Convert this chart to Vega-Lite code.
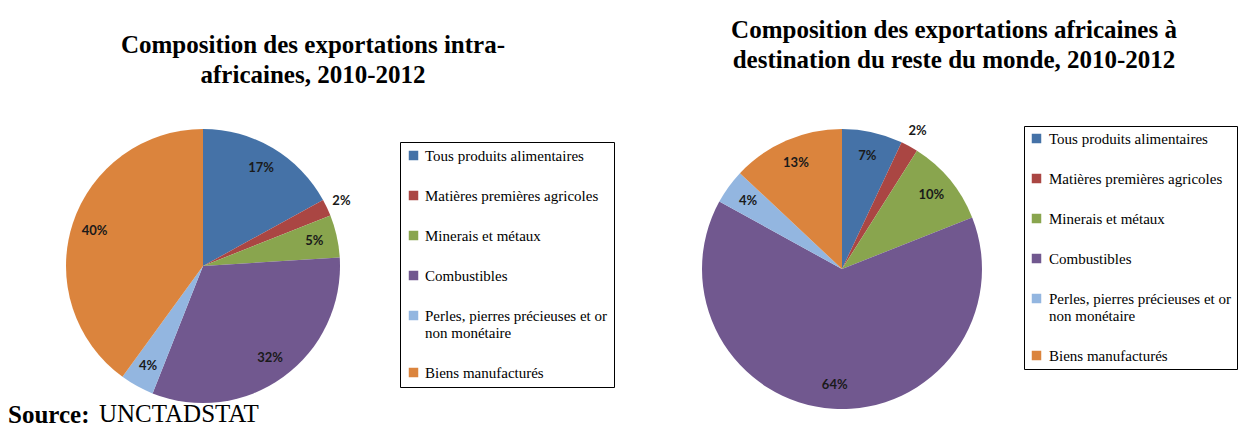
{
  "$schema": "https://vega.github.io/schema/vega-lite/v6.json",
  "background": "white",
  "padding": {"left": 8, "top": 17, "right": 0, "bottom": 0},
  "datasets": {
    "intra": [
      {"categorie": "Tous produits alimentaires", "ordre": 1, "part": 0.17},
      {"categorie": "Matières premières agricoles", "ordre": 2, "part": 0.02},
      {"categorie": "Minerais et métaux", "ordre": 3, "part": 0.05},
      {"categorie": "Combustibles", "ordre": 4, "part": 0.32},
      {"categorie": "Perles, pierres précieuses et or non monétaire", "ordre": 5, "part": 0.04},
      {"categorie": "Biens manufacturés", "ordre": 6, "part": 0.40}
    ],
    "monde": [
      {"categorie": "Tous produits alimentaires", "ordre": 1, "part": 0.07},
      {"categorie": "Matières premières agricoles", "ordre": 2, "part": 0.02},
      {"categorie": "Minerais et métaux", "ordre": 3, "part": 0.10},
      {"categorie": "Combustibles", "ordre": 4, "part": 0.64},
      {"categorie": "Perles, pierres précieuses et or non monétaire", "ordre": 5, "part": 0.04},
      {"categorie": "Biens manufacturés", "ordre": 6, "part": 0.13}
    ]
  },
  "title": {
    "text": "UNCTADSTAT",
    "orient": "bottom",
    "anchor": "start",
    "frame": "group",
    "font": "Liberation Serif",
    "fontSize": 25,
    "fontWeight": "normal",
    "color": "black",
    "dx": 33,
    "offset": -31
  },
  "vconcat": [
    {
      "title": {
        "text": "Source:",
        "orient": "bottom",
        "anchor": "start",
        "frame": "group",
        "font": "Liberation Serif",
        "fontSize": 25,
        "fontWeight": "bold",
        "color": "black",
        "dx": -58,
        "offset": -30
      },
      "bounds": "flush",
      "spacing": 362,
      "resolve": {"legend": {"color": "independent"}},
      "hconcat": [
        {
          "width": 274,
          "height": 274,
          "data": {"name": "intra"},
          "title": {
            "text": ["Composition des exportations intra-", "africaines, 2010-2012"],
            "anchor": "middle",
            "frame": "group",
            "dx": 110,
            "offset": 40,
            "font": "Liberation Serif",
            "fontSize": 25,
            "fontWeight": "bold",
            "lineHeight": 30,
            "color": "black"
          },
          "layer": [
            {
              "mark": {"type": "arc"},
              "encoding": {
                "theta": {"field": "part", "type": "quantitative", "stack": true},
                "order": {"field": "ordre", "type": "quantitative"},
                "color": {
                  "field": "categorie",
                  "type": "nominal",
                  "scale": {
                    "domain": ["Tous produits alimentaires", "Matières premières agricoles", "Minerais et métaux", "Combustibles", "Perles, pierres précieuses et or non monétaire", "Biens manufacturés"],
                    "range": ["#4572A7", "#AA4643", "#89A54E", "#71588F", "#93B6E0", "#DB843D"]
                  },
                  "legend": {
                    "orient": "none",
                    "legendX": 334,
                    "legendY": 13,
                    "title": null,
                    "symbolType": "square",
                    "symbolSize": 90,
                    "symbolStrokeWidth": 0,
                    "labelFont": "Liberation Serif",
                    "labelFontSize": 15,
                    "labelColor": "black",
                    "labelLimit": 300,
                    "labelOffset": 4,
                    "rowPadding": 24,
                    "strokeColor": "black",
                    "padding": 6,
                    "labelExpr": "datum.label == 'Perles, pierres précieuses et or non monétaire' ? ['Perles, pierres précieuses et or', 'non monétaire'] : datum.label"
                  }
                }
              }
            },
            {
              "mark": {"type": "text", "radius": 114, "font": "Lato", "fontWeight": "bold", "fontSize": 13, "color": "#1a1a1a"},
              "encoding": {
                "theta": {"field": "part", "type": "quantitative", "stack": true},
                "order": {"field": "ordre", "type": "quantitative"},
                "text": {"condition": {"test": "datum.part > 0.025", "field": "part", "type": "quantitative", "format": ".0%"}, "value": ""}
              }
            },
            {
              "mark": {"type": "text", "radius": 153, "font": "Lato", "fontWeight": "bold", "fontSize": 13, "color": "#1a1a1a"},
              "encoding": {
                "theta": {"field": "part", "type": "quantitative", "stack": true},
                "order": {"field": "ordre", "type": "quantitative"},
                "text": {"condition": {"test": "datum.part <= 0.025", "field": "part", "type": "quantitative", "format": ".0%"}, "value": ""}
              }
            }
          ]
        },
        {
          "width": 280,
          "height": 280,
          "data": {"name": "monde"},
          "title": {
            "text": ["Composition des exportations africaines à", "destination du reste du monde, 2010-2012"],
            "anchor": "middle",
            "frame": "group",
            "dx": 112,
            "offset": 37,
            "font": "Liberation Serif",
            "fontSize": 25,
            "fontWeight": "bold",
            "lineHeight": 30,
            "color": "black"
          },
          "layer": [
            {
              "mark": {"type": "arc"},
              "encoding": {
                "theta": {"field": "part", "type": "quantitative", "stack": true},
                "order": {"field": "ordre", "type": "quantitative"},
                "color": {
                  "field": "categorie",
                  "type": "nominal",
                  "scale": {
                    "domain": ["Tous produits alimentaires", "Matières premières agricoles", "Minerais et métaux", "Combustibles", "Perles, pierres précieuses et or non monétaire", "Biens manufacturés"],
                    "range": ["#4572A7", "#AA4643", "#89A54E", "#71588F", "#93B6E0", "#DB843D"]
                  },
                  "legend": {
                    "orient": "none",
                    "legendX": 322,
                    "legendY": -3,
                    "title": null,
                    "symbolType": "square",
                    "symbolSize": 90,
                    "symbolStrokeWidth": 0,
                    "labelFont": "Liberation Serif",
                    "labelFontSize": 15,
                    "labelColor": "black",
                    "labelLimit": 300,
                    "labelOffset": 5,
                    "rowPadding": 24,
                    "strokeColor": "black",
                    "padding": 5,
                    "labelExpr": "datum.label == 'Perles, pierres précieuses et or non monétaire' ? ['Perles, pierres précieuses et or', 'non monétaire'] : datum.label"
                  }
                }
              }
            },
            {
              "mark": {"type": "text", "radius": 116, "font": "Lato", "fontWeight": "bold", "fontSize": 13, "color": "#1a1a1a"},
              "encoding": {
                "theta": {"field": "part", "type": "quantitative", "stack": true},
                "order": {"field": "ordre", "type": "quantitative"},
                "text": {"condition": {"test": "datum.part > 0.025", "field": "part", "type": "quantitative", "format": ".0%"}, "value": ""}
              }
            },
            {
              "mark": {"type": "text", "radius": 157, "font": "Lato", "fontWeight": "bold", "fontSize": 13, "color": "#1a1a1a"},
              "encoding": {
                "theta": {"field": "part", "type": "quantitative", "stack": true},
                "order": {"field": "ordre", "type": "quantitative"},
                "text": {"condition": {"test": "datum.part <= 0.025", "field": "part", "type": "quantitative", "format": ".0%"}, "value": ""}
              }
            }
          ]
        }
      ]
    }
  ],
  "config": {"view": {"stroke": null}}
}
